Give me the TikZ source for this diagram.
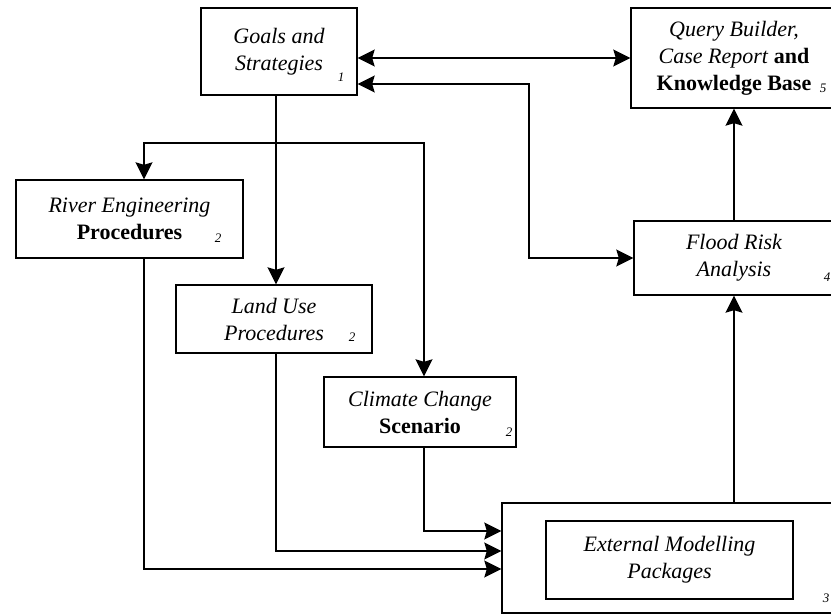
\documentclass[tikz,border=0pt]{standalone}
\usepackage{fontspec}
\setmainfont{Liberation Serif}
\usetikzlibrary{arrows.meta}
\newcommand{\bup}[1]{\textnormal{\bfseries #1}}
\begin{document}
\begin{tikzpicture}[x=1pt, y=-1pt, line width=1.4pt,
  box/.style={rectangle, draw=black, align=center, inner sep=0pt, font=\fontsize{22}{27}\selectfont\itshape},
  ref/.style={inner sep=0pt, font=\fontsize{13}{13}\selectfont\itshape},
  flow/.style={-{Stealth[length=17pt, width=17pt, inset=2.5pt]}},
  both/.style={{Stealth[length=17pt, width=17pt, inset=2.5pt]}-{Stealth[length=17pt, width=17pt, inset=2.5pt]}}]
	\useasboundingbox (0,0) rectangle (831,615);
	\clip (0,0) rectangle (831,615);
	% boxes
	\node[box, minimum width=156pt, minimum height=87pt] (goals) at (279,51.5) {Goals and\\Strategies};
	\node[box, minimum width=206pt, minimum height=100pt] (query) at (734,58) {Query Builder,\\Case Report \bup{and}\\\bup{Knowledge Base}};
	\node[box, minimum width=227pt, minimum height=78pt] (river) at (129.5,219) {River Engineering\\\bup{Procedures}};
	\node[box, minimum width=196pt, minimum height=68pt] (land) at (274,319) {Land Use\\Procedures};
	\node[box, minimum width=192pt, minimum height=70pt] (climate) at (420,412) {Climate Change\\\bup{Scenario}};
	\node[box, minimum width=200pt, minimum height=74pt] (flood) at (734,258) {Flood Risk\\Analysis};
	\node[box, minimum width=338pt, minimum height=110pt] (ext) at (671,558) {};
	\node[box, minimum width=247pt, minimum height=78pt] (pkg) at (669.5,560) {External Modelling\\Packages};
	% reference numbers
	\node[ref] (goalsno) at (341,77) {1};
	\node[ref] (queryno) at (823,88) {5};
	\node[ref] (riverno) at (218,238) {2};
	\node[ref] (landno) at (352,337) {2};
	\node[ref] (climateno) at (509,432) {2};
	\node[ref] (floodno) at (827,277) {4};
	\node[ref] (extno) at (826,598) {3};
	% connectors
	\coordinate (fork) at (276,143);
	\coordinate (bend) at (529,84);
	\draw[both] (goals.east |- query.west) -- (query.west);
	\draw[both] (flood.west) -| (bend) -- (goals.east |- bend);
	\draw[flow] (goals.south -| fork) -- (land.north -| fork);
	\draw[flow] (fork) -| ([xshift=14.5pt]river.north);
	\draw[flow] (fork) -| ([xshift=4pt]climate.north);
	\draw[flow] ([xshift=4pt]climate.south) |- ([yshift=27pt]ext.west);
	\draw[flow] (land.south -| fork) |- ([yshift=7pt]ext.west);
	\draw[flow] ([xshift=14.5pt]river.south) |- ([yshift=-11pt]ext.west);
	\draw[flow] (ext.north -| flood.south) -- (flood.south);
	\draw[flow] (flood.north) -- (query.south);
\end{tikzpicture}
\end{document}
